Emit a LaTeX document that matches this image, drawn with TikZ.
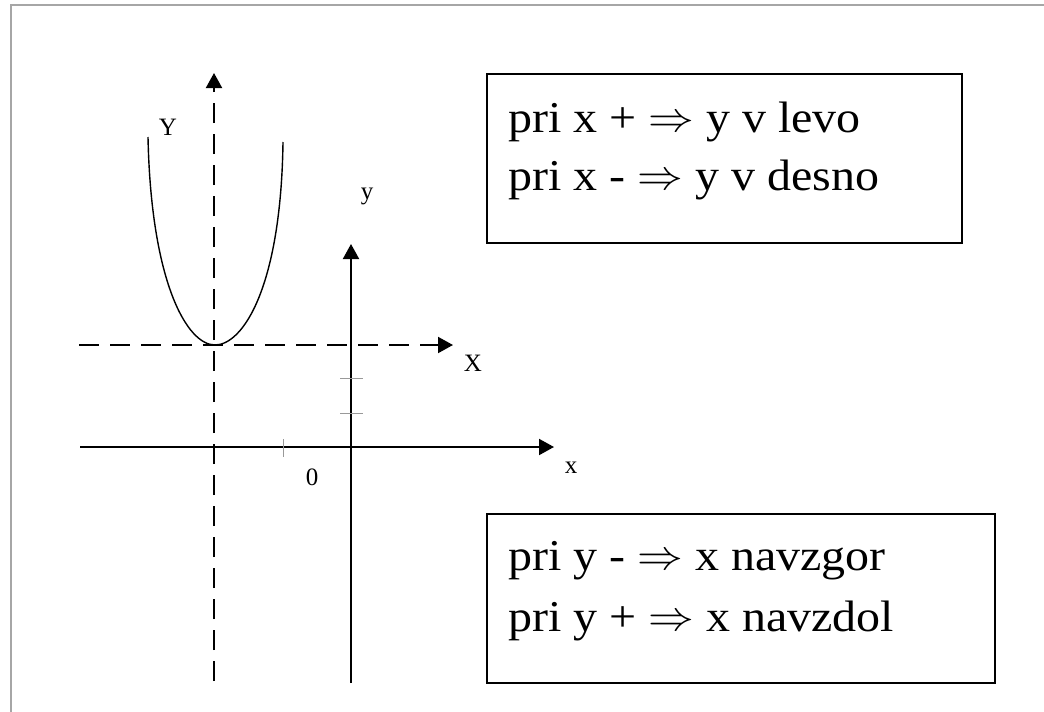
\documentclass[tikz,border=0pt]{standalone}
\usepackage{fontspec}
\setmainfont{Liberation Serif}
\newcommand{\dimpl}{{\fontsize{10}{12}\selectfont\raisebox{0.6pt}{\scalebox{4.2}{$\Rightarrow$}}}}
\usetikzlibrary{arrows.meta}
\begin{document}
\begin{tikzpicture}[x=1pt,y=-1pt,
  axis/.style={line width=2pt,-{Triangle[length=15pt,width=16pt]}},
  daxis/.style={axis,dash pattern=on 20pt off 11pt},
  tick/.style={line width=1pt,draw=black!40},
  curve/.style={line width=1.4pt},
  box/.style={draw,line width=2pt,rectangle,inner sep=0pt},
  lbl/.style={font=\fontsize{25}{30}\selectfont,inner sep=0pt},
  big/.style={font=\fontsize{44}{50}\selectfont,inner sep=0pt,anchor=base west}]
\useasboundingbox (0,0) rectangle (1044,712);
\draw[line width=2pt,draw=black!35] (11,712) -- (11,5) -- (1044,5);
% coordinates
\coordinate (Vb) at (214,681);
\coordinate (Vt) at (214,73);
\coordinate (Hl) at (79,345);
\coordinate (Hr) at (453,345);
\coordinate (xl) at (80,447);
\coordinate (xr) at (554,447);
\coordinate (yb) at (351,683);
\coordinate (yt) at (351,244);
\coordinate (P0) at (148,137);
\coordinate (V) at (215,345);
\coordinate (P3) at (283,142);
% axes
\draw[daxis] (Vb) -- (Vt);
\draw[daxis] (Hl) -- (Hr);
\draw[axis] (xl) -- (xr);
\draw[axis] (yb) -- (yt);
% ticks
\draw[tick] (283,439) -- (283,457);
\draw[tick] (340,378) -- (363,378);
\draw[tick] (340,413) -- (363,413);
% parabola
\draw[curve] (P0) .. controls (151,282) and (187,345) .. (V)
             .. controls (243,345) and (281,287) .. (P3);
% labels
\node[lbl] (LY) at (168,127) {Y};
\node[lbl] (Ly) at (367,196) {y};
\node[lbl] (LX) at (473,363) {X};
\node[lbl] (L0) at (312,477) {0};
\node[lbl] (Lx) at (571,468) {x};
% boxes
\node[box,minimum width=475pt,minimum height=169pt] (B1) at (724.5,158.3) {};
\node[big] (t1) at (508,132) {\scalebox{1.09}[1]{pri x + \dimpl{} y v levo}};
\node[big] (t2) at (508,190) {\scalebox{1.09}[1]{pri x - \dimpl{} y v desno}};
\node[box,minimum width=508pt,minimum height=169pt] (B2) at (741,598.5) {};
\node[big] (t3) at (508,570) {\scalebox{1.09}[1]{pri y - \dimpl{} x navzgor}};
\node[big] (t4) at (508,631) {\scalebox{1.09}[1]{pri y + \dimpl{} x navzdol}};
\end{tikzpicture}
\end{document}
